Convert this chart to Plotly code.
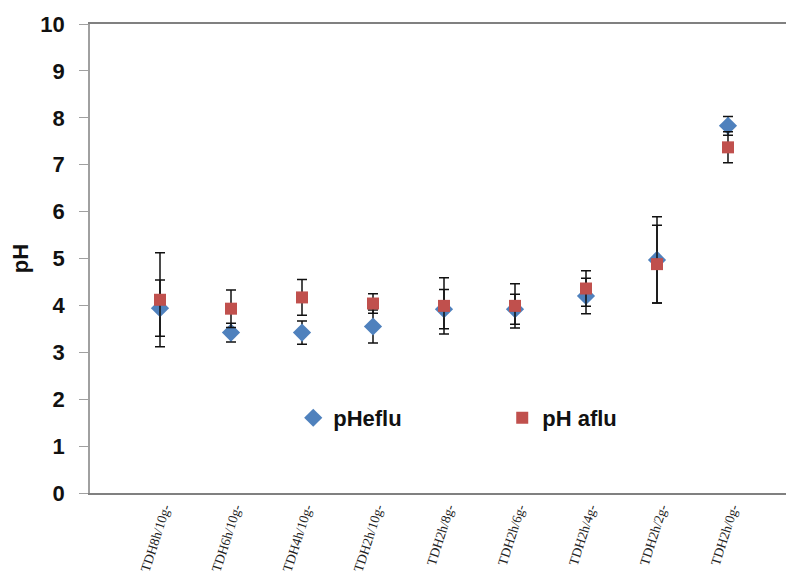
import plotly.graph_objects as go

categories = ["TDH8h/10g-", "TDH6h/10g-", "TDH4h/10g-", "TDH2h/10g-", "TDH2h/8g-",
              "TDH2h/6g-", "TDH2h/4g-", "TDH2h/2g-", "TDH2h/0g-"]
ph_eflu = [3.94, 3.42, 3.42, 3.55, 3.92, 3.92, 4.20, 4.97, 7.83]
ph_eflu_err = [0.60, 0.20, 0.25, 0.35, 0.42, 0.32, 0.38, 0.92, 0.20]
ph_aflu = [4.12, 3.93, 4.17, 4.04, 3.99, 3.99, 4.36, 4.88, 7.37]
ph_aflu_err = [1.00, 0.40, 0.38, 0.21, 0.60, 0.47, 0.38, 0.83, 0.33]
y_ticks = list(range(0, 11))

idx = list(range(len(categories)))
label_shift = 0.06

fig = go.Figure()
fig.add_trace(go.Scatter(
    x=idx, y=ph_eflu, mode="markers", name="pHeflu",
    marker=dict(symbol="diamond", size=14, color="#4F81BD"),
    error_y=dict(type="data", array=ph_eflu_err, visible=True,
                 color="#111111", thickness=1.5, width=5),
))
fig.add_trace(go.Scatter(
    x=idx, y=ph_aflu, mode="markers", name="pH aflu",
    marker=dict(symbol="square", size=12, color="#C0504D"),
    error_y=dict(type="data", array=ph_aflu_err, visible=True,
                 color="#111111", thickness=1.5, width=5),
))

fig.update_layout(
    width=786, height=575,
    margin=dict(l=90, r=0, t=24, b=82),
    paper_bgcolor="white", plot_bgcolor="white",
    showlegend=True,
    legend=dict(orientation="h", x=0.292, y=0.16, xanchor="left", yanchor="middle",
                font=dict(family="Liberation Sans, Arial", size=22, color="#111111", weight="bold"),
                entrywidth=164, bgcolor="rgba(0,0,0,0)"),
    xaxis=dict(range=[-0.986, 8.817], tickmode="array", automargin=False,
               tickvals=[i + label_shift for i in idx], ticktext=categories,
               tickangle=-72, showgrid=False, zeroline=False,
               showline=True, linecolor="#808080", linewidth=2, mirror=True,
               ticks="", tickfont=dict(family="Liberation Serif, Times New Roman", size=13.5, color="#222222")),
    yaxis=dict(range=[0, 10], tickmode="array", tickvals=y_ticks, automargin=False,
               showgrid=False, zeroline=False,
               showline=True, linecolor="#a0a0a0", linewidth=1.5,
               ticks="outside", ticklen=9, tickcolor="#a0a0a0", tickwidth=1,
               ticklabelstandoff=10,
               tickfont=dict(family="Liberation Sans, Arial", size=22, color="#111111", weight="bold"),
               title=dict(text="pH", font=dict(family="Liberation Sans, Arial", size=22, color="#111111", weight="bold"),
                          standoff=6)),
)

fig.write_html("out.html")
